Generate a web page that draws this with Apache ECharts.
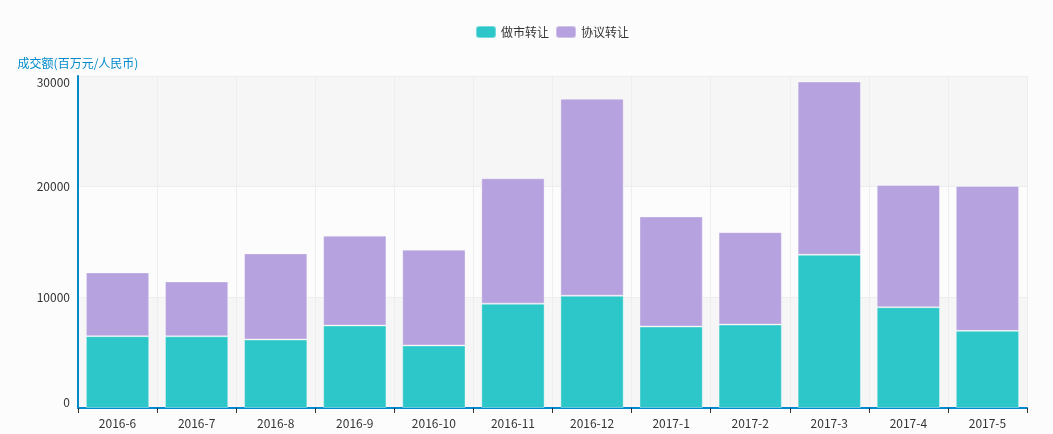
<!DOCTYPE html>
<html>
<head>
<meta charset="utf-8">
<script src="https://cdn.jsdelivr.net/npm/echarts@6/dist/echarts.min.js"></script>
<style>
html, body { margin: 0; padding: 0; background: #fcfcfc; }
#main { width: 1053px; height: 434px; }
</style>
</head>
<body>
<div id="main"></div>
<script>
var months = ['2016-6', '2016-7', '2016-8', '2016-9', '2016-10', '2016-11', '2016-12', '2017-1', '2017-2', '2017-3', '2017-4', '2017-5'];
var marketMaking = [6490, 6480, 6190, 7450, 5650, 9430, 10150, 7360, 7540, 13850, 9100, 6970];
var agreement = [5760, 4950, 7780, 8120, 8660, 11330, 17800, 9950, 8350, 15650, 11050, 13100];

var chart = echarts.init(document.getElementById('main'));
var font = '"Noto Sans CJK SC", "Noto Sans", sans-serif';

var option = {
    backgroundColor: '#fcfcfc',
    textStyle: { fontFamily: font },
    color: ['#2ec7c9', '#b6a2de'],
    legend: {
        top: 20,
        left: 470,
        itemWidth: 20,
        itemHeight: 12,
        itemGap: 6,
        textStyle: { color: '#333', fontSize: 12, fontFamily: font },
        data: ['做市转让', '协议转让']
    },
    grid: { left: 78, right: 26, top: 76, bottom: 26 },
    xAxis: {
        type: 'category',
        data: months,
        axisLine: { lineStyle: { color: '#008acd', width: 2 } },
        axisTick: { show: true, length: 5, lineStyle: { color: '#333' } },
        axisLabel: { color: '#333', fontSize: 12, margin: 9 },
        splitLine: { show: true, lineStyle: { color: '#eee' } }
    },
    yAxis: {
        type: 'value',
        name: '成交额(百万元/人民币)',
        nameGap: 7,
        nameTextStyle: { color: '#008acd', fontSize: 12, align: 'center' },
        min: 0,
        max: 30000,
        interval: 10000,
        axisLine: { show: true, lineStyle: { color: '#008acd', width: 2 } },
        axisTick: { show: false },
        axisLabel: {
            color: '#333',
            fontSize: 12,
            margin: 8,
            verticalAlignMinLabel: 'bottom',
            verticalAlignMaxLabel: 'top',
            formatter: function (v) { return String(v); }
        },
        splitLine: { show: true, lineStyle: { color: '#eee' } },
        splitArea: { show: true, areaStyle: { color: ['#f6f6f6', '#fcfcfc'] } }
    },
    series: [
        {
            name: '做市转让',
            type: 'bar',
            stack: 'total',
            barCategoryGap: '20%',
            itemStyle: { borderColor: 'rgba(255,255,255,0.35)', borderWidth: 1 },
            data: marketMaking
        },
        {
            name: '协议转让',
            type: 'bar',
            stack: 'total',
            barCategoryGap: '20%',
            itemStyle: { borderColor: 'rgba(255,255,255,0.35)', borderWidth: 1 },
            data: agreement
        }
    ]
};
chart.setOption(option);
window.addEventListener('resize', chart.resize);
</script>
</body>
</html>
